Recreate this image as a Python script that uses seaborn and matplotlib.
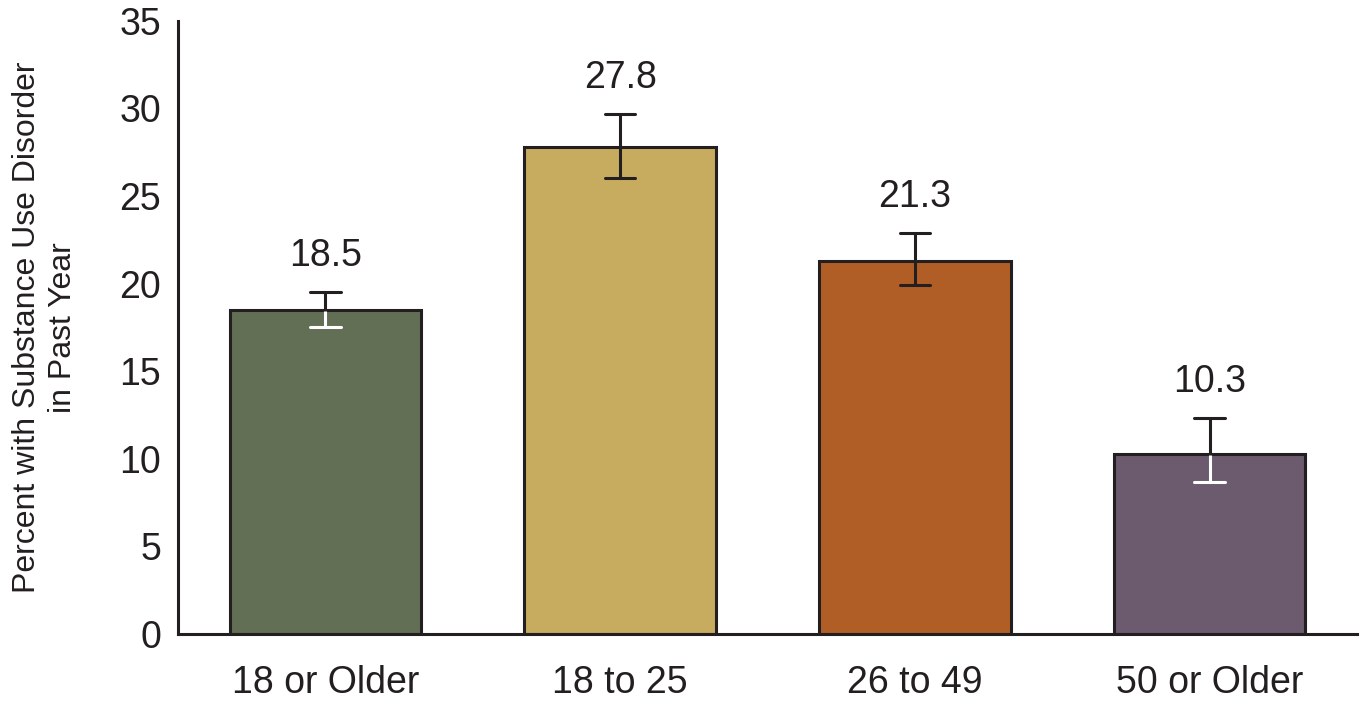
import matplotlib
matplotlib.use("Agg")
import matplotlib.pyplot as plt
import seaborn as sns
import pandas as pd
from matplotlib import font_manager

categories = ["18 or Older", "18 to 25", "26 to 49", "50 or Older"]
values = [18.5, 27.8, 21.3, 10.3]
ci_low = [17.5, 26.0, 19.9, 8.7]
ci_high = [19.5, 29.7, 22.9, 12.3]
colors = ["#626F55", "#C7AB5E", "#B15E26", "#6C5A6E"]
inner_err_colors = ["white", "#231F20", "#231F20", "white"]
yticks = [0, 5, 10, 15, 20, 25, 30, 35]
ylabel = "Percent with Substance Use Disorder\nin Past Year"

sns.set_theme(style="white")
names = {f.name for f in font_manager.fontManager.ttflist}
fam = "Liberation Sans Narrow" if "Liberation Sans Narrow" in names else "Liberation Sans"
plt.rcParams["font.family"] = [fam, "DejaVu Sans"]

dark = "#231F20"
df = pd.DataFrame({"cat": categories, "val": values})

fig = plt.figure(figsize=(13.69, 7.10), dpi=100)
ax = fig.add_axes([178/1369, 1 - 634/710, (1357-178)/1369, (634-20.7)/710])

sns.barplot(data=df, x="cat", y="val", hue="cat", palette=colors, order=categories,
            hue_order=categories, legend=False, width=0.65, edgecolor=dark,
            linewidth=2.2, saturation=1, ax=ax, errorbar=None)

xs = list(range(len(categories)))
cap = 0.052
for x, v, lo, hi, ic in zip(xs, values, ci_low, ci_high, inner_err_colors):
    ax.plot([x, x], [v, hi], color=dark, lw=2.2, solid_capstyle="butt", zorder=5)
    ax.plot([x - cap, x + cap], [hi, hi], color=dark, lw=2.2, zorder=5)
    ax.plot([x, x], [lo, v - 0.08], color=ic, lw=2.2, solid_capstyle="butt", zorder=5)
    ax.plot([x - cap, x + cap], [lo, lo], color=ic, lw=2.2, zorder=5)
    ax.annotate(f"{v:.1f}", xy=(x, hi), xytext=(0, 13), textcoords="offset points",
                ha="center", va="bottom", fontsize=27, color=dark)

ax.set_xlim(-0.5, 3.5)
ax.set_ylim(0, 35)
ax.set_yticks(yticks)
ax.set_yticklabels([str(t) for t in yticks], fontsize=27, color=dark)
ax.tick_params(axis="x", labelsize=27, colors=dark, length=0, pad=22)
ax.tick_params(axis="y", length=0, pad=12)
ax.set_xlabel("")
ax.set_ylabel(ylabel, fontsize=23, color=dark, labelpad=30, linespacing=1.25)

for s in ["top", "right"]:
    ax.spines[s].set_visible(False)
for s in ["left", "bottom"]:
    ax.spines[s].set_color(dark)
    ax.spines[s].set_linewidth(2.2)

fig.savefig("out.png", dpi=100, facecolor="white")
